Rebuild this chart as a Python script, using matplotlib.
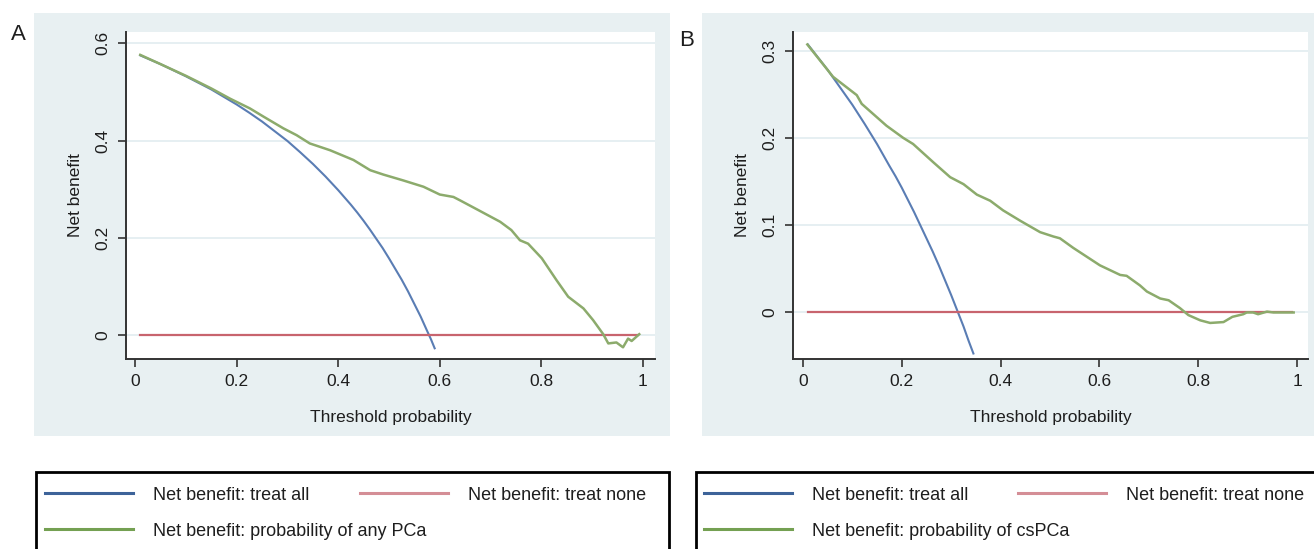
import matplotlib
matplotlib.use("Agg")
import matplotlib.pyplot as plt
from matplotlib.patches import Rectangle
from matplotlib.lines import Line2D

plt.rcParams['font.family'] = ['Liberation Sans', 'DejaVu Sans']

W, H = 1314, 549

# panel A: any PCa
pt_all_a = [0.01, 0.05, 0.10, 0.15, 0.20, 0.225, 0.25, 0.275, 0.30, 0.325, 0.35, 0.375,
            0.40, 0.425, 0.4375, 0.45, 0.4625, 0.475, 0.4875, 0.50, 0.5125, 0.525, 0.5375,
            0.55, 0.5625, 0.575, 0.5825, 0.59]
nb_all_a = [0.575, 0.557, 0.532, 0.505, 0.474, 0.457, 0.439, 0.419, 0.399, 0.376, 0.352, 0.326,
            0.298, 0.268, 0.252, 0.235, 0.217, 0.198, 0.179, 0.158, 0.136, 0.114, 0.090,
            0.064, 0.038, 0.009, -0.008, -0.027]
pt_none_a = [0.01, 0.99]
nb_none_a = [0.0, 0.0]
pt_mod_a = [0.01, 0.05, 0.10, 0.15, 0.187, 0.226, 0.253, 0.292, 0.318, 0.344, 0.384, 0.430,
            0.463, 0.489, 0.528, 0.568, 0.600, 0.627, 0.640, 0.676, 0.719, 0.741, 0.758, 0.774,
            0.801, 0.830, 0.853, 0.883, 0.902, 0.922, 0.932, 0.948, 0.961, 0.971, 0.978, 0.993]
nb_mod_a = [0.576, 0.557, 0.533, 0.507, 0.486, 0.466, 0.449, 0.425, 0.411, 0.394, 0.380, 0.360,
            0.339, 0.330, 0.318, 0.305, 0.289, 0.284, 0.277, 0.257, 0.233, 0.216, 0.195, 0.188,
            0.158, 0.113, 0.079, 0.055, 0.031, 0.002, -0.017, -0.015, -0.025, -0.007, -0.012, 0.002]

# panel B: csPCa
pt_all_b = [0.01, 0.05, 0.075, 0.10, 0.125, 0.15, 0.175, 0.1875, 0.20, 0.2125, 0.225, 0.2375,
            0.25, 0.2625, 0.275, 0.2875, 0.30, 0.3125, 0.325, 0.335, 0.345]
nb_all_b = [0.307, 0.278, 0.258, 0.238, 0.216, 0.193, 0.168, 0.156, 0.143, 0.129, 0.115, 0.100,
            0.085, 0.070, 0.054, 0.037, 0.020, 0.002, -0.016, -0.032, -0.047]
pt_none_b = [0.01, 0.99]
nb_none_b = [0.0, 0.0]
pt_mod_b = [0.009, 0.061, 0.109, 0.119, 0.169, 0.203, 0.223, 0.264, 0.298, 0.325, 0.352, 0.379,
            0.405, 0.440, 0.480, 0.507, 0.520, 0.547, 0.574, 0.601, 0.642, 0.655, 0.682, 0.696,
            0.723, 0.740, 0.763, 0.780, 0.804, 0.824, 0.851, 0.869, 0.891, 0.898, 0.911, 0.921,
            0.939, 0.952, 0.993]
nb_mod_b = [0.307, 0.270, 0.249, 0.239, 0.214, 0.200, 0.193, 0.172, 0.155, 0.147, 0.135, 0.128,
            0.117, 0.105, 0.092, 0.087, 0.085, 0.074, 0.064, 0.054, 0.043, 0.042, 0.031, 0.024,
            0.016, 0.014, 0.005, -0.003, -0.009, -0.012, -0.011, -0.005, -0.002, 0.000, 0.000, -0.002,
            0.001, 0.000, 0.000]

xticks = [0, 0.2, 0.4, 0.6, 0.8, 1]
xtick_labels = ['0', '0.2', '0.4', '0.6', '0.8', '1']
yticks_a = [0, 0.2, 0.4, 0.6]
ytick_labels_a = ['0', '0.2', '0.4', '0.6']
yticks_b = [0, 0.1, 0.2, 0.3]
ytick_labels_b = ['0', '0.1', '0.2', '0.3']

label_all = 'Net benefit: treat all'
label_none = 'Net benefit: treat none'
label_mod_a = 'Net benefit: probability of any PCa'
label_mod_b = 'Net benefit: probability of csPCa'

BG = '#e8f0f2'
C_ALL = '#5a7db4'
C_NONE = '#c8646e'
C_MOD = '#8cab6c'
DARK = '#333333'
TXT = '#1e1e1e'


def px(x, y):
    return x / W, 1 - y / H


fig = plt.figure(figsize=(W / 100, H / 100), dpi=100)
fig.patch.set_facecolor('white')

# light panels behind each chart
for x0, x1 in [(34, 670), (702, 1314)]:
    fig.patches.append(Rectangle(px(x0, 436), (x1 - x0) / W, 423 / H,
                                 transform=fig.transFigure, facecolor=BG, edgecolor='none', zorder=-2))
# legend boxes (run off the bottom / right edge)
for x0, x1 in [(36, 669), (696, 1330)]:
    fig.patches.append(Rectangle(px(x0, 560), (x1 - x0) / W, 88 / H,
                                 transform=fig.transFigure, facecolor='white', edgecolor='black',
                                 linewidth=2.0, zorder=-1))


def make_panel(left, right, xlim, ylim, pt_all, nb_all, pt_none, nb_none, pt_mod, nb_mod,
               yticks, ylabels):
    x0, y0 = px(left, 359)
    ax = fig.add_axes([x0, y0, (right - left) / W, 327 / H])
    ax.set_facecolor('white')
    ax.set_axisbelow(True)
    ax.yaxis.grid(True, color='#e4eef1', linewidth=1.3)
    ax.plot(pt_all, nb_all, color=C_ALL, lw=1.5)
    ax.plot(pt_none, nb_none, color=C_NONE, lw=1.6)
    ax.plot(pt_mod, nb_mod, color=C_MOD, lw=1.8)
    ax.set_xlim(*xlim)
    ax.set_ylim(*ylim)
    ax.set_xticks(xticks)
    ax.set_xticklabels(xtick_labels)
    ax.set_yticks(yticks)
    ax.set_yticklabels(ylabels, rotation=90, va='center')
    for s in ['top', 'right']:
        ax.spines[s].set_visible(False)
    for s in ['left', 'bottom']:
        ax.spines[s].set_color(DARK)
        ax.spines[s].set_linewidth(1.4)
    ax.tick_params(direction='out', length=6, width=1.2, color=DARK, labelcolor=TXT,
                   labelsize=12.5, pad=5)
    ax.set_xlabel('Threshold probability', fontsize=12.5, color=TXT, labelpad=15)
    ax.set_ylabel('Net benefit', fontsize=12.5, color=TXT, labelpad=9)
    return ax


# legend keys are drawn a little darker and heavier than the plotted lines
key_all = Line2D([], [], color='#3d6399', lw=2.2)
key_none = Line2D([], [], color='#d48e96', lw=2.2)
key_mod = Line2D([], [], color='#74a052', lw=2.2)


def entry(handle, label, x, y):
    fx, fy = px(x, y)
    fig.legend([handle], [label], loc='center left', bbox_to_anchor=(fx, fy),
               frameon=False, borderpad=0, borderaxespad=0, handlelength=4.9,
               handletextpad=1.1, fontsize=13, labelcolor=TXT)


make_panel(126, 655, (-0.018, 1.024), (-0.049, 0.623), pt_all_a, nb_all_a,
           pt_none_a, nb_none_a, pt_mod_a, nb_mod_a, yticks_a, ytick_labels_a)
make_panel(793, 1308, (-0.020, 1.022), (-0.0533, 0.3213), pt_all_b, nb_all_b,
           pt_none_b, nb_none_b, pt_mod_b, nb_mod_b, yticks_b, ytick_labels_b)

entry(key_all, label_all, 45, 495)
entry(key_none, label_none, 360, 495)
entry(key_mod, label_mod_a, 45, 531)
entry(key_all, label_all, 704, 495)
entry(key_none, label_none, 1018, 495)
entry(key_mod, label_mod_b, 704, 531)

fig.text(*px(11, 35), 'A', fontsize=16, va='center', ha='left', color=TXT)
fig.text(*px(679, 40), 'B', fontsize=16, va='center', ha='left', color=TXT)

fig.savefig('out.png', dpi=100)
